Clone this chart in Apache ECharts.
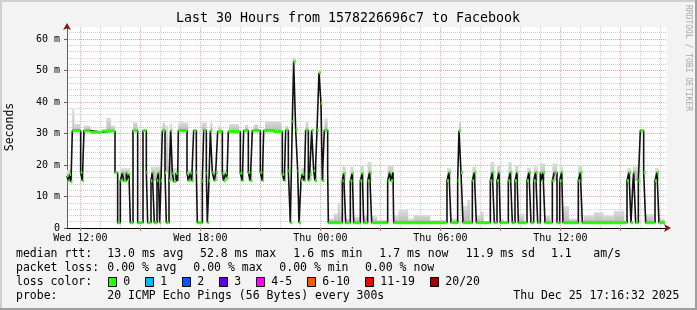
<!DOCTYPE html>
<html><head><meta charset="utf-8">
<script src="https://cdn.jsdelivr.net/npm/echarts@6/dist/echarts.min.js"></script>
<style>html,body{margin:0;padding:0;background:#f3f3f3}#c{width:697px;height:310px}</style>
</head><body><div id="c"></div>
<script>
// ---- data (time = minutes since window start, Wed 11:20) ----
const xTickMinutes = [40, 400, 760, 1120, 1480];
const xTickLabels = ['Wed 12:00', 'Wed 18:00', 'Thu 00:00', 'Thu 06:00', 'Thu 12:00'];
const yTickValues = [0, 10, 20, 30, 40, 50, 60];
const yTickLabels = ['0', '10 m', '20 m', '30 m', '40 m', '50 m', '60 m'];

// median rtt (ms) step changes: [minute, value]
const medianSteps = [
  [0,16.5],[4,15.0],[8,17.0],[12,14.7],[16,30.9],[41,17.6],[46,15.0],[51,30.9],[70,30.4],[105,30.8],
  [144,17.6],[152,1.7],[160,15.0],[166,17.5],[170,15.0],[178,17.6],[182,15.3],[186,17.0],[190,1.7],[198,30.9],
  [212,1.7],[228,30.9],[238,17.6],[242,1.7],[252,15.0],[256,17.6],[262,1.7],[270,15.0],[274,17.6],[278,1.7],
  [282,15.0],[286,30.9],[294,17.6],[298,1.7],[306,15.0],[311,30.9],
  [316,17.4],[320,14.8],[327,17.4],[332,15.0],[334,30.9],[360,17.4],[364,15.0],[370,17.4],[374,15.0],[380,30.9],
  [388,17.6],[391,1.7],[406,15.0],[410,30.9],[418,17.4],[421,1.7],[426,15.0],[430,30.9],[436,17.6],[442,15.0],
  [446,17.6],[452,30.6],[466,17.4],[470,15.0],[476,17.4],[480,16.0],[484,30.6],[520,17.4],[526,15.0],[530,30.9],
  [544,17.6],[550,15.0],[556,30.9],[580,17.6],[586,15.0],[590,30.9],
  [620,30.6],[646,17.1],[652,15.0],[656,31.0],[664,18.2],[670,1.7],[676,33.8],[680,52.8],[686,31.1],[692,18.2],
  [696,1.7],[702,15.0],[706,17.1],[712,15.0],[716,31.0],[724,15.0],[728,17.1],[734,31.0],[740,18.2],[744,15.0],
  [750,31.0],[756,49.3],[762,39.6],[766,15.0],[772,31.0],[782,18.2],[784,1.7],[826,15.0],[830,17.3],[836,1.7],
  [850,15.0],[856,17.3],[860,1.7],[880,15.0],[886,17.3],[890,1.7],[902,15.0],
  [908,17.6],[914,1.7],[962,15.0],[968,17.6],[972,15.0],[978,17.6],[980,1.7],[1140,15.0],[1146,17.6],[1152,1.7],
  [1172,15.0],[1176,30.9],[1182,17.6],[1188,1.7],
  [1216,15.0],[1222,17.6],[1228,1.7],[1270,15.0],[1276,17.6],[1282,1.7],[1290,15.0],[1296,17.6],[1300,1.7],
  [1324,15.0],[1330,17.6],[1336,1.7],[1344,15.0],[1350,17.6],[1354,1.7],[1380,15.0],[1386,17.6],[1392,1.7],
  [1400,15.0],[1406,17.6],[1412,1.7],[1420,17.6],[1424,15.0],[1428,17.6],[1434,1.7],[1456,15.0],[1462,17.6],
  [1470,1.7],[1478,15.0],[1484,17.6],[1488,1.7],
  [1534,15.0],[1540,17.6],[1546,1.7],[1680,15.0],[1686,17.6],[1692,1.7],[1698,15.0],[1700,17.6],[1706,1.7],
  [1714,15.0],[1720,30.9],[1730,17.6],[1736,1.7],[1764,15.0],[1770,17.6],[1776,1.7],[1794,1.7]
];

// smoke (ping spread): [startMin, endMin, low ms, high ms]
const smokeBands = [
  [0,16,14.7,18.5],[16,22,30.9,38],[22,40,30.9,33],[51,70,30.9,32.5],[118,132,30.8,35],[132,144,30.8,32.5],
  [160,190,15.0,19],[198,212,30.9,33.5],[252,282,15.0,19.5],[286,294,30.9,33.5],[294,304,17.6,32.5],
  [308,316,15.0,33],[316,334,14.8,19],[334,364,30.9,33.5],[360,380,15.0,18.5],[404,419,30.9,33.5],
  [430,436,30.9,33.5],[442,452,15.0,18.5],[454,464,30.6,32.3],[466,484,15.0,18.5],[486,516,30.6,33],
  [520,530,15.0,18.5],[534,544,30.9,32.8],[544,556,15.0,18.5],[560,574,30.9,32.9],[580,590,15.0,18.5],
  [594,644,30.6,33.9],[646,656,15.0,18.5],[656,664,31.0,32.5],[676,686,52.8,54],[702,716,15.0,19],
  [716,724,31.0,33.8],[724,734,15.0,18.5],[744,750,15.0,19.5],[766,772,15.0,18.5],[772,782,31.0,34.8],
  [784,800,1.7,3],[800,812,1.7,4.6],[812,820,1.7,8],[820,826,1.7,5],[826,836,15.0,19.5],[836,850,1.7,3],
  [850,860,15.0,19.5],[860,880,1.7,3.5],[880,890,15.0,20],[890,902,1.7,4],
  [902,914,15.0,21],[914,930,1.7,3.8],[930,962,1.7,2.5],[962,980,15.0,20],[980,994,1.7,4],[994,1024,1.7,5.7],
  [1024,1040,1.7,3],[1040,1090,1.7,4.2],[1090,1140,1.7,2.5],[1140,1152,15.0,19],[1152,1172,1.7,3],
  [1176,1182,30.9,34],[1188,1200,1.7,7.0],
  [1200,1210,1.7,8.9],[1216,1228,15.0,19.5],[1228,1240,1.7,4],[1240,1250,1.7,5.2],[1270,1282,15.0,21],
  [1290,1300,15.0,20],[1300,1310,1.7,3],[1324,1334,15.0,21],[1344,1354,15.0,20],[1354,1372,1.7,4.5],
  [1380,1392,15.0,19],[1400,1412,15.0,19.5],[1420,1434,15.0,20.5],[1434,1450,1.7,4],[1456,1470,15.0,20.5],
  [1478,1488,15.0,19.5],[1488,1500,1.7,7],
  [1500,1506,1.7,7],[1506,1534,1.7,3],[1534,1546,15.0,20],[1550,1580,1.7,4],[1580,1610,1.7,5],
  [1610,1640,1.7,4],[1640,1672,1.7,5.5],[1680,1692,15.0,19],[1698,1714,15.0,19.5],[1736,1760,1.7,4.5],
  [1764,1776,15.0,19],[1776,1792,1.7,3]
];

const statsRtt = ['13.0 ms avg', '52.8 ms max', '1.6 ms min', '1.7 ms now', '11.9 ms sd', '1.1', 'am/s'];
const statsLoss = ['0.00 % avg', '0.00 % max', '0.00 % min', '0.00 % now'];
const lossLabels = ['0', '1', '2', '3', '4-5', '6-10', '11-19', '20/20'];
const lossColors = ['#26ff00', '#00b8ff', '#0059ff', '#5e00ff', '#ff00fe', '#ff5500', '#ff0000', '#a00000'];
const titleText = 'Last 30 Hours from 1578226696c7 to Facebook';
const probeText = '20 ICMP Echo Pings (56 Bytes) every 300s';
const dateText = 'Thu Dec 25 17:16:32 2025';

// ---- build ----
const X_MAX = 1800, Y_MAX = 63.8;
const minorX = [], majorX = [];
for (let m = 40; m < X_MAX; m += 60) { ((m - 40) % 180 === 0 ? majorX : minorX).push(m); }
const minorY = [];
for (let v = 2; v < Y_MAX; v += 2) { if (v % 10 !== 0) minorY.push(v); }

const greenData = [];
for (let i = 0; i < medianSteps.length - 1; i++) {
  const [t, v] = medianSteps[i], t2 = medianSteps[i + 1][0];
  greenData.push([t, v], [t2, v], [t2, '-']);
}

const MONO = 'DejaVu Sans Mono';
const chart = echarts.init(document.getElementById('c'), null, {renderer: 'canvas'});
const gtext = (x, y, text, size, extra) => ({
  type: 'text', x: x, y: y, silent: true,
  style: Object.assign({text: text, font: size + 'px "' + MONO + '"', fill: '#000', verticalAlign: 'middle'}, extra || {})
});

const graphics = [];
// frame
graphics.push({type:'rect', shape:{x:0,y:0,width:697,height:2}, style:{fill:'#cfcfcf'}, silent:true});
graphics.push({type:'rect', shape:{x:0,y:0,width:2,height:310}, style:{fill:'#cfcfcf'}, silent:true});
graphics.push({type:'rect', shape:{x:0,y:308,width:697,height:2}, style:{fill:'#9e9e9e'}, silent:true});
graphics.push({type:'rect', shape:{x:695,y:0,width:2,height:310}, style:{fill:'#9e9e9e'}, silent:true});
// title
graphics.push(gtext(348, 19, titleText, 13.3, {align: 'center'}));
// y title
graphics.push(Object.assign(gtext(10, 127, 'Seconds', 11.5, {align: 'center'}), {rotation: Math.PI / 2}));
// watermark
graphics.push(Object.assign(gtext(688, 58, 'RRDTOOL / TOBI OETIKER', 8, {align: 'center', fill: '#a8a8a8'}), {rotation: -Math.PI / 2}));
// legend line 1
graphics.push(gtext(16, 254, 'median rtt:', 11.5));
const rttX = [107.3, 200, 293.3, 379.3, 465.7, 551, 593.3];
statsRtt.forEach((s, i) => graphics.push(gtext(rttX[i], 254, s, 11.5)));
// legend line 2
graphics.push(gtext(16, 268.3, 'packet loss:', 11.5));
const lossX = [107.3, 193.3, 279.3, 365];
statsLoss.forEach((s, i) => graphics.push(gtext(lossX[i], 268.3, s, 11.5)));
// legend line 3
graphics.push(gtext(16, 282.3, 'loss color:', 11.5));
const boxX = [108.5, 145.5, 182.5, 219.5, 256.5, 307.5, 365.5, 430.5];
lossLabels.forEach((s, i) => {
  graphics.push({type:'rect', shape:{x: boxX[i], y: 277.5, width: 8, height: 9}, style:{fill: lossColors[i], stroke:'#000', lineWidth:1}, silent:true});
  graphics.push(gtext(boxX[i] + 14.8, 282.3, s, 11.5));
});
// legend line 4
graphics.push(gtext(16, 296, 'probe:', 11.5));
graphics.push(gtext(107.3, 296, probeText, 11.5));
graphics.push(gtext(513.3, 296, dateText, 11.5));

const gridColor = '#cccccc', majColor = '#f2a0a0';
const option = {
  animation: false,
  backgroundColor: '#f3f3f3',
  grid: {left: 67, top: 27, width: 600, height: 201, show: true, backgroundColor: '#ffffff', borderWidth: 0, containLabel: false},
  xAxis: [
    {type: 'value', min: 0, max: X_MAX,
      axisLine: {show: true, onZero: false, lineStyle: {color: '#000', width: 1}},
      axisTick: {show: false, customValues: minorX},
      axisLabel: {show: true, customValues: xTickMinutes, margin: 5,
        formatter: v => xTickLabels[xTickMinutes.indexOf(v)] || '',
        fontFamily: MONO, fontSize: 10, color: '#000'},
      splitLine: {show: true, lineStyle: {color: gridColor, type: 'dotted', width: 1}}},
    {type: 'value', min: 0, max: X_MAX, position: 'bottom',
      axisLine: {show: true, onZero: false, symbol: ['none', 'arrow'], symbolSize: [6, 7], symbolOffset: [0, 4],
        lineStyle: {color: '#8b1010', opacity: 0}},
      axisTick: {show: true, customValues: majorX, length: 3, lineStyle: {color: '#e07070'}},
      axisLabel: {show: false},
      splitLine: {show: true, lineStyle: {color: majColor, type: 'dotted', width: 1}}}
  ],
  yAxis: [
    {type: 'value', min: 0, max: Y_MAX,
      axisLine: {show: true, onZero: false, lineStyle: {color: '#606060', width: 1}},
      axisTick: {show: true, customValues: yTickValues, length: 3, lineStyle: {color: '#606060'}},
      axisLabel: {show: true, customValues: yTickValues, margin: 7,
        formatter: v => yTickLabels[yTickValues.indexOf(v)] || '',
        fontFamily: MONO, fontSize: 10, color: '#000'},
      splitLine: {show: true, lineStyle: {color: majColor, type: 'dotted', width: 1}}},
    {type: 'value', min: 0, max: Y_MAX, position: 'left',
      axisLine: {show: true, onZero: false, symbol: ['none', 'arrow'], symbolSize: [6, 7], symbolOffset: [0, 4],
        lineStyle: {color: '#8b1010', opacity: 0}},
      axisTick: {show: false, customValues: minorY},
      axisLabel: {show: false},
      splitLine: {show: true, lineStyle: {color: gridColor, type: 'dotted', width: 1}}}
  ],
  series: [
    {type: 'custom', xAxisIndex: 0, yAxisIndex: 0, silent: true, z: 2,
      encode: {x: [0, 1], y: [2, 3]},
      renderItem: (params, api) => {
        const p1 = api.coord([api.value(0), api.value(3)]);
        const p2 = api.coord([api.value(1), api.value(2)]);
        return {type: 'rect', shape: {x: p1[0], y: p1[1], width: p2[0] - p1[0], height: p2[1] - p1[1]},
          style: {fill: new echarts.graphic.LinearGradient(0, 0, 0, 1, [{offset: 0, color: '#dcdcdc'}, {offset: 1, color: '#b8b8b8'}])}};
      },
      data: smokeBands},
    {type: 'line', xAxisIndex: 0, yAxisIndex: 0, step: 'end', data: medianSteps, showSymbol: false, silent: true, z: 3,
      lineStyle: {color: '#111', width: 1.6}},
    {type: 'line', xAxisIndex: 0, yAxisIndex: 0, data: greenData, showSymbol: false, silent: true, connectNulls: false, z: 4,
      lineStyle: {color: '#26ff00', width: 3, cap: 'butt'}}
  ],
  graphic: graphics
};
chart.setOption(option);
</script></body></html>
